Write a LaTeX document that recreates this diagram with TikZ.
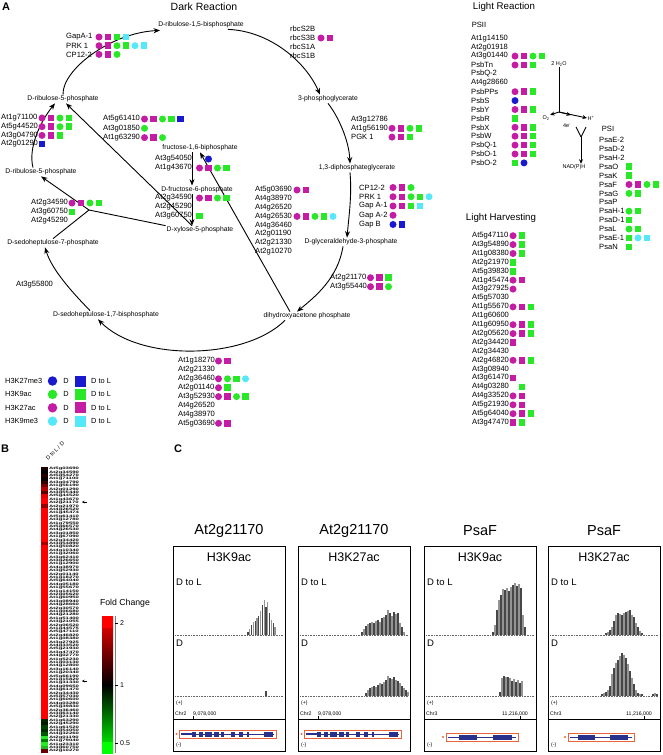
\documentclass[tikz,border=0pt]{standalone}
\usepackage{fontspec}
\setmainfont{Liberation Sans}
\usepackage{graphicx}
\usetikzlibrary{arrows.meta}
\definecolor{cmag}{RGB}{196,28,165}
\definecolor{cgreen}{RGB}{40,232,40}
\definecolor{cblue}{RGB}{25,25,205}
\definecolor{ccyan}{RGB}{85,232,250}
\definecolor{orng}{RGB}{232,100,60}
\definecolor{navy}{RGB}{40,50,140}
\makeatletter
\newcommand\mks[3]{\def\mk@x{#1}\def\mk@y{#2}\edef\mk@list{#3}\expandafter\mk@loop\mk@list\relax}
\def\mk@loop#1{\ifx#1\relax\else\node[mk#1] at (\mk@x,\mk@y) {};\pgfmathsetmacro\mk@x{\mk@x+9}\expandafter\mk@loop\fi}
\makeatother
\newcommand\glist[5]{\foreach \gtxt/\gcod [count=\gi from 0] in {#5} {\pgfmathsetmacro\gy{#3+#4*\gi}\node[gene] at (#1,\gy) {\gtxt};\mks{#2}{\gy}{\gcod}}}
\newcommand\hbars[4]{\foreach \hh [count=\hj from 0] in {#4} {\pgfmathsetmacro\hx{#1+#2*\hj}\ifodd\hj\def\hc{black!42}\else\def\hc{black!72}\fi\draw[\hc, line width=1.05pt] (\hx,#3) -- (\hx,#3-\hh);}}
\tikzset{
  met/.style={font=\fontsize{6.8}{8}\selectfont, inner sep=1pt},
  gene/.style={font=\fontsize{7.6}{8}\selectfont, anchor=west, inner sep=0pt},
  ttl/.style={font=\fontsize{10.5}{12}\selectfont},
  ttls/.style={font=\fontsize{9.7}{11}\selectfont},
  panel/.style={font=\bfseries\fontsize{11}{12}\selectfont},
  arr/.style={line width=0.9pt,-{Stealth[length=6.5pt,width=5pt]}},
  sarr/.style={line width=0.9pt,-{Stealth[length=4.5pt,width=4pt]}},
  ln/.style={line width=0.9pt},
  mka/.style={circle,fill=cmag,minimum size=7pt,inner sep=0pt},
  mkA/.style={rectangle,fill=cmag,minimum size=6.5pt,inner sep=0pt},
  mkb/.style={circle,fill=cgreen,minimum size=7pt,inner sep=0pt},
  mkB/.style={rectangle,fill=cgreen,minimum size=6.5pt,inner sep=0pt},
  mkc/.style={circle,fill=cblue,minimum size=7pt,inner sep=0pt},
  mkC/.style={rectangle,fill=cblue,minimum size=6.5pt,inner sep=0pt},
  mkd/.style={circle,fill=ccyan,minimum size=7pt,inner sep=0pt},
  mkD/.style={rectangle,fill=ccyan,minimum size=6.5pt,inner sep=0pt},
  mk0/.style={inner sep=0pt},
  wl/.style={font=\fontsize{5.5}{6}\selectfont, inner sep=0.5pt},
  leg/.style={font=\fontsize{7.4}{8}\selectfont, anchor=west, inner sep=0pt},
  hml/.style={font=\bfseries\fontsize{3.4}{3.4}\selectfont, anchor=west, inner sep=0pt},
  ctitle/.style={font=\fontsize{14.5}{16}\selectfont},
  cmark/.style={font=\fontsize{12.5}{14}\selectfont},
  clab/.style={font=\fontsize{9.5}{10}\selectfont, anchor=west, inner sep=0pt},
  smallt/.style={font=\fontsize{5.2}{6}\selectfont, anchor=west, inner sep=0pt},
  boxl/.style={line width=0.8pt},
  basel/.style={black!60, line width=0.4pt, dash pattern=on 0.8pt off 0.8pt},
}
\begin{document}
\begin{tikzpicture}[x=1pt,y=-1pt]
\useasboundingbox (0,0) rectangle (662,755);
\fill[white] (0,0) rectangle (662,755);

% ---------------- Panel A: Dark reaction ----------------
\node[panel] (pA) at (6,7) {A};
\node[ttl] (tdark) at (204,7) {Dark Reaction};

\node[met] (rbp) at (201,25) {D-ribulose-1,5-bisphosphate};
\node[met] (pga) at (328,99) {3-phosphoglycerate};
\node[met] (dpg) at (357,168) {1,3-diphosphateglycerate};
\node[met] (gap) at (351,242) {D-glyceraldehyde-3-phosphate};
\node[met] (dhap) at (307,316) {dihydroxyacetone phosphate};
\node[met] (sbp) at (106,315) {D-sedoheptulose-1,7-bisphosphate};
\node[met] (s7p) at (53,243) {D-sedoheptulose-7-phosphate};
\node[met] (r5pb) at (41,172) {D-ribulose-5-phosphate};
\node[met] (ru5p) at (63,99) {D-ribulose-5-phosphate};
\node[met] (fbp) at (200,148) {fructose-1,6-biphosphate};
\node[met] (f6p) at (197,190) {D-fructose-6-phosphate};
\node[met] (x5p) at (200,230) {D-xylose-5-phosphate};

\draw[arr] (ru5p.north) .. controls (62,70) and (110,33) .. ([xshift=3pt,yshift=-1pt]rbp.south west);
\draw[arr] ([xshift=-17pt]rbp.south east) .. controls (270,31) and (306,62) .. ([xshift=-8pt]pga.north);
\draw[arr] (pga.south) .. controls (338,116) and (349,140) .. ([xshift=-7pt]dpg.north);
\draw[arr] ([xshift=-7pt]dpg.south) .. controls (352,195) and (349,215) .. ([xshift=-4pt]gap.north);
\draw[arr] ([xshift=-8pt]gap.south) .. controls (338,278) and (316,296) .. ([xshift=-10pt]dhap.north);
\draw[arr] ([xshift=-22pt]dhap.south) .. controls (245,360) and (140,362) .. ([xshift=-8pt]sbp.south);
\draw[arr] ([xshift=-16pt]sbp.north) .. controls (72,292) and (52,270) .. ([xshift=-8pt]s7p.south);
\coordinate (j) at (89,210);
\draw[ln] (s7p.north) -- (j);
\draw[ln] (j) -- (x5p.north west);
\draw[arr] (j) -- (r5pb.south);
\draw[arr] ([xshift=-8pt]r5pb.north) .. controls (28,148) and (40,122) .. ([xshift=-8pt]ru5p.south);
\draw[arr] ([xshift=-8pt]x5p.north) -- ([xshift=3pt]ru5p.south);
\draw[arr] ([xshift=-8pt]fbp.south) -- ([xshift=-5pt]f6p.north);
\draw[arr] ([xshift=-5pt]f6p.south) -- ([xshift=-8pt]x5p.north);
\draw[arr] ([xshift=-17pt]dhap.north) -- (fbp.south);

\glist{66}{99}{37}{8.7}{GapA-1/aABD, PRK 1/aAbBdD, CP12-2/aAb}
\glist{290}{321}{29}{9}{rbcS2B/, rbcS3B/aA, rbcS1A/, rbcS1B/}
\glist{351}{392}{119.5}{8.8}{At3g12786/, At1g56190/aAbB, PGK 1/aAB}
\glist{359}{393}{187.5}{9.25}{CP12-2/aAb, PRK 1/aAbBd, Gap A-1/aABD, Gap A-2/a, Gap B/cC}
\glist{330}{370.5}{277.7}{9}{At2g21170/aAB, At3g55440/aAb}
\glist{255}{297}{190}{8.8}{At5g03690/aA, At4g38970/, At4g26520/, At4g26530/aAbBd, At4g36460/, At2g01190/, At2g21330/, At2g10270/}
\glist{178}{218.5}{361}{8.9}{At1g18270/aA, At2g21330/, At2g36460/abBd, At2g01140/aB, At3g52930/aAbB, At4g26520/, At4g38970/, At5g03690/aA}
\glist{1}{42}{118}{8.7}{At1g71100/aAbB, At5g44520/aAbB, At3g04790/aAB, At2g01290/C}
\glist{103}{144.5}{119}{9.3}{At5g61410/aAbBC, At3g01850/b, At1g63290/aAb}
\glist{155}{199.5}{159}{9}{At3g54050/0c, At1g43670/aAbB}
\glist{155}{199.5}{198}{9}{At2g34590/aAbB, At2g45290/, At3g60750/B}
\glist{31}{72}{203}{9}{At2g34590/aAbB, At3g60750/B, At2g45290/}
\node[gene] (g55800) at (16,285) {At3g55800};

% legend
\foreach \ln/\cc [count=\li from 0] in {H3K27me3/cblue, H3K9ac/cgreen, H3K27ac/cmag, H3K9me3/ccyan} {
  \pgfmathsetmacro\ly{381+13.4*\li}
  \node[leg] (lg\li) at (5,\ly) {\ln};
  \node[circle, fill=\cc, minimum size=9.5pt, inner sep=0pt] (lc\li) at (52.5,\ly) {};
  \node[leg, anchor=center] (ld\li) at (66,\ly) {D};
  \node[rectangle, fill=\cc, minimum size=11pt, inner sep=0pt] (ls\li) at (80,\ly) {};
  \node[leg] (lt\li) at (91,\ly) {D to L};
}

% ---------------- Light reaction ----------------
\node[ttls] (tlight) at (504,7) {Light Reaction};
\node[gene, anchor=center] (psii) at (479,25) {PSII};
\glist{471}{515}{38.3}{8.9}{At1g14150/, At2g01918/, At3g01440/aAbB, PsbTn/aAB, PsbQ-2/, At4g28660/, PsbPPs/aAB, PsbS/c, PsbY/aAB, PsbR/B, PsbX/aAB, PsbW/aAB, PsbQ-1/aAB, PsbO-1/aAB, PsbO-2/Bc}
\node[gene, anchor=center] (psi) at (608,129) {PSI};
\glist{599}{629}{140}{8.9}{PsaE-2/, PsaD-2/, PsaH-2/, PsaO/B, PsaK/B, PsaF/aAbB, PsaG/bB, PsaP/, PsaH-1/bB, PsaD-1/B, PsaL/bB, PsaE-1/BdD, PsaN/B}
\node[ttls] (tlh) at (501,218) {Light Harvesting};
\glist{472}{513}{235.7}{8.9}{At5g47110/aB, At3g54890/aB, At1g08380/aB, At2g21970/B, At5g39830/B, At1g45474/aA, At3g27925/a, At5g57030/, At1g55670/aAB, At1g60600/, At1g60950/aAB, At2g05620/aAB, At2g34420/A, At2g34430/, At2g46820/aAB, At3g08940/, At3g61470/A, At4g03280/0B, At4g33520/aA, At5g21930/aA, At5g64040/aAB, At3g47470/AB}

% water splitting
\node[wl] (h2o) at (559,64) {2 H\textsubscript{2}O};
\coordinate (ws) at (559,112);
\draw[ln] (h2o.south) -- (ws);
\node[wl] (o2) at (546,118) {O\textsubscript{2}};
\node[wl] (hp) at (591,118) {H\textsuperscript{+}};
\node[wl] (e4) at (567,126) {4e\textsuperscript{-}};
\coordinate (em) at (571,115);
\draw[sarr] (ws) -- (o2.north east);
\draw[sarr] (ws) -- (em);
\draw[sarr] (ws) -- (hp.west);
\coordinate (y1) at (576,127);
\coordinate (y2) at (586,127);
\coordinate (y3) at (581,137);
\node[wl] (nad) at (574,167) {NAD(P)H};
\draw[ln] (y1) -- (y3);
\draw[ln] (y2) -- (y3);
\draw[sarr] (y3) -- (y3 |- nad.north);

% ---------------- Panel B ----------------
\node[panel] (pB) at (5,449) {B};
\node[font=\fontsize{5.5}{6}\selectfont, rotate=45, inner sep=0pt] (dld) at (55,451) {D to L / D};
\fill[red] (41,467) rectangle (48,753);
\foreach \r/\cl in {0/black!90!red, 1/black, 2/black!85!red, 3/black!95!red, 4/black!80!red, 5/black!55!red, 6/black!30!red, 7/black!65!red, 8/black!10!red, 11/black!40!red, 22/black!35!red, 74/black!85!green, 75/black!90!green, 76/black!75!green, 77/black!82!green, 78/black!65!green, 79/cgreen, 80/black!50!green, 81/cgreen, 82/black!20!cgreen, 83/black!60!red}
  \fill[\cl] (41,{467+3.4*\r}) rectangle (48,{467+3.4*(\r+1)});
\foreach \nm [count=\r from 0] in {At5g03690, At2g34590, At5g54270, At1g71100, At3g04790, At1g56190, At2g01290, At3g55440, At5g44520, At1g43670, At2g21170, At2g21970, At4g26520, At1g45474, At5g61410, At3g12780, At1g79550, At5g66570, At4g26530, At3g01850, At1g67090, At2g34420, At3g54890, At3g50820, At4g10340, At1g32060, At3g62410, At3g26650, At1g12900, At4g38970, At3g52930, At2g01140, At1g18270, At5g64040, At4g05180, At1g55670, At1g14150, At2g05620, At1g60950, At3g08940, At4g28660, At2g30570, At1g06680, At4g21280, At1g51400, At3g21055, At2g06520, At1g44575, At5g47110, At2g46820, At1g08380, At3g27925, At4g33520, At5g21930, At3g47470, At4g02770, At1g52230, At1g03130, At4g12800, At3g16140, At1g20340, At5g66190, At1g15820, At1g31330, At4g09650, At3g61470, At2g34430, At5g57030, At1g60600, At4g03280, At5g39830, At2g36460, At3g63140, At2g21330, At1g63290, At2g45290, At1g61520, At3g54050, At4g32260, At2g01190, At1g79040, At1g23310, At3g60750, At2g10270}
  \node[hml] at (49,{467+3.4*\r+1.8}) {\scalebox{1.75}[1]{\nm}};
\coordinate (ar1a) at (87,502);
\coordinate (ar1b) at (82,502);
\coordinate (ar2a) at (87,681);
\coordinate (ar2b) at (82,681);
\draw[line width=0.5pt, -{Stealth[length=2.5pt,width=2.5pt]}] (ar1a) -- (ar1b);
\draw[line width=0.5pt, -{Stealth[length=2.5pt,width=2.5pt]}] (ar2a) -- (ar2b);

\node[font=\fontsize{8.7}{10}\selectfont] (fc) at (125,603) {Fold Change};
\shade[top color=red, bottom color=black] (102,616) rectangle (113,685);
\shade[top color=black, bottom color=green] (102,685) rectangle (113,753);
\fill[red] (102,616) rectangle (113,628);
\fill[green] (102,742) rectangle (113,753);
\draw[line width=0.3pt, black!50] (115,616) -- (115,753);
\foreach \ty/\tl in {623/2, 685/1, 743/0.5} {
  \draw[line width=0.5pt] (115,\ty) -- (118,\ty);
  \node[font=\fontsize{7}{8}\selectfont, anchor=west, inner sep=0pt] at (120,\ty) {\tl};
}

% ---------------- Panel C ----------------
\node[panel] (pC) at (178,449) {C};
\foreach \cL/\gt/\hm/\ch [count=\k] in {173/At2g21170/H3K9ac/Chr2, 298/At2g21170/H3K27ac/Chr2, 424/PsaF/H3K9ac/Chr3, 548/PsaF/H3K27ac/Chr3} {
  \node[ctitle] (ct\k) at (\cL+56,531) {\gt};
  \draw[boxl] (\cL,546) rectangle (\cL+112,751);
  \draw[boxl] (\cL,719) -- (\cL+112,719);
  \node[cmark] (cm\k) at (\cL+56,557) {\hm};
  \node[clab] (cdl\k) at (\cL+3,582) {D to L};
  \node[clab] (cd\k) at (\cL+3,643) {D};
  \draw[basel] (\cL+2,635) -- (\cL+110,635);
  \draw[basel] (\cL+2,696) -- (\cL+110,696);
  \node[smallt] (cp\k) at (\cL+3,703) {(+)};
  \node[smallt] (cc\k) at (\cL+2,714) {\ch};
  \node[smallt] (cmn\k) at (\cL+3,745) {(-)};
}
% positions and gene models
\foreach \cL in {173,298} {
  \node[smallt] at (\cL+20,714) {9,078,000};
  \draw[line width=0.6pt] (\cL+20,715.5) -- (\cL+20,719);
  \draw[orng, line width=0.7pt] (\cL+6,730) rectangle (\cL+103,738);
  \fill[orng] (\cL+3.5,734) circle (1.2);
  \draw[navy, line width=0.7pt] (\cL+8,734) -- (\cL+101,734);
  \fill[navy] (\cL+8,733) rectangle (\cL+19,735);
  \foreach \ea/\eb in {19/23, 26/30, 32/39, 41/46, 48/51, 58/62, 66/70, 74/75.5, 91/100}
    \fill[navy] (\cL+\ea,731.5) rectangle (\cL+\eb,736.5);
}
\foreach \cL in {424,548} {
  \node[smallt, anchor=east] at (\cL+104,714) {11,216,000};
  \draw[line width=0.6pt] (\cL+96,715.5) -- (\cL+96,719);
}
\draw[orng, line width=0.7pt] (446,733) rectangle (518,741);
\fill[orng] (443,737) circle (1.2);
\draw[navy, line width=0.7pt] (448,737) -- (516,737);
\fill[navy] (459,734.5) rectangle (477,739.5);
\fill[navy] (493,734.5) rectangle (512,739.5);
\draw[orng, line width=0.7pt] (568,733) rectangle (634,741);
\fill[orng] (565,737) circle (1.2);
\draw[navy, line width=0.7pt] (570,737) -- (632,737);
\fill[navy] (578,734.5) rectangle (595,739.5);
\fill[navy] (610,734.5) rectangle (628,739.5);

% histograms
\hbars{248}{1.8}{635}{3,6,10,13,14,17,19,24,30,35,28,33,22,15,12,8}
\hbars{266}{2}{696}{5}
\hbars{362}{2}{635}{3,6,9,11,12,13,12,14,15,13,17,18,20,25,22,19,23,21,22,12,8,3}
\hbars{366}{2}{696}{3,6,8,9,10,9,11,13,12,14,16,20,18,17,19,16,15,13,10,8,6,4}
\hbars{493}{2}{635}{3,10,25,35,40,46,45,47,44,48,50,52,49,51,47,20,8}
\hbars{500}{2}{696}{4,18,20,19,19,18,15,17,14,16,13,15}
\hbars{606}{2}{635}{2,3,5,8,14,20,22,21,20,22,23,24,25,20,18,12,8,4,2}
\hbars{602}{2}{696}{2,3,4,6,10,22,28,33,36,40,43,41,38,32,25,18,12,6,3,2,2}
\hbars{653}{2}{696}{2,3,2}
\end{tikzpicture}
\end{document}
